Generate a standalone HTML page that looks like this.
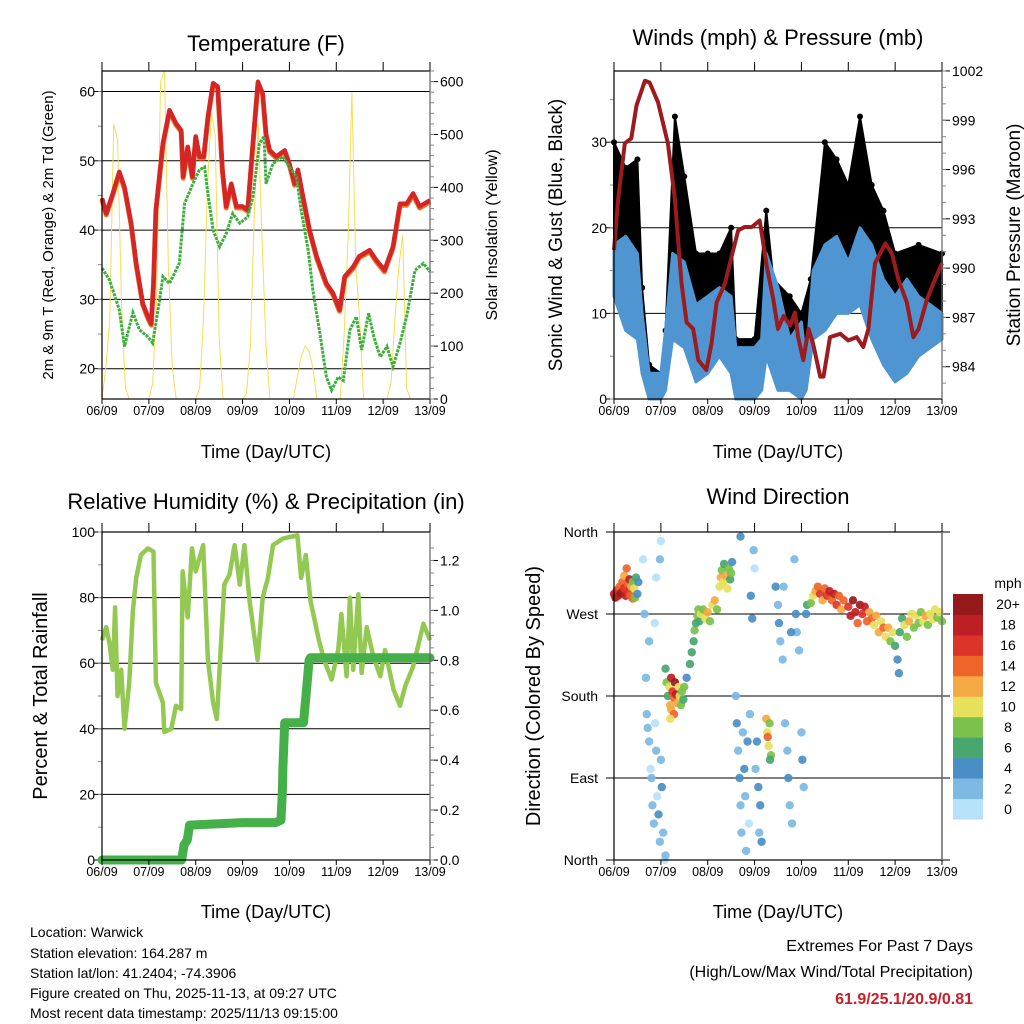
<!DOCTYPE html>
<html><head><meta charset="utf-8"><style>
html,body{margin:0;padding:0;background:#fff;}
svg{display:block;font-family:"Liberation Sans",sans-serif;}
</style></head><body>
<svg id="c" width="1024" height="1024" viewBox="0 0 1024 1024" xmlns="http://www.w3.org/2000/svg">
<rect width="1024" height="1024" fill="#fff"/>
<g id="g"></g>
<text x="266" y="51" font-size="22" text-anchor="middle">Temperature (F)</text>
<text x="778" y="45" font-size="22" text-anchor="middle">Winds (mph) &amp; Pressure (mb)</text>
<text x="266" y="509" font-size="22" text-anchor="middle">Relative Humidity (%) &amp; Precipitation (in)</text>
<text x="778" y="504" font-size="22" text-anchor="middle">Wind Direction</text>
<text transform="translate(53,235) rotate(-90)" font-size="15" text-anchor="middle">2m &amp; 9m T (Red, Orange) &amp; 2m Td (Green)</text>
<text transform="translate(497,235) rotate(-90)" font-size="16" text-anchor="middle">Solar Insolation (Yellow)</text>
<text transform="translate(562,235) rotate(-90)" font-size="19" text-anchor="middle">Sonic Wind &amp; Gust (Blue, Black)</text>
<text transform="translate(1020,235) rotate(-90)" font-size="19" text-anchor="middle">Station Pressure (Maroon)</text>
<text transform="translate(47,696) rotate(-90)" font-size="20" text-anchor="middle">Percent &amp; Total Rainfall</text>
<text transform="translate(540,696) rotate(-90)" font-size="20" text-anchor="middle">Direction (Colored By Speed)</text>
<text x="266" y="458" font-size="18" text-anchor="middle">Time (Day/UTC)</text>
<text x="778" y="458" font-size="18" text-anchor="middle">Time (Day/UTC)</text>
<text x="266" y="918" font-size="18" text-anchor="middle">Time (Day/UTC)</text>
<text x="778" y="918" font-size="18" text-anchor="middle">Time (Day/UTC)</text>
<g font-size="14">
<text x="30" y="937">Location: Warwick</text>
<text x="30" y="958">Station elevation: 164.287 m</text>
<text x="30" y="978">Station lat/lon: 41.2404; -74.3906</text>
<text x="30" y="998">Figure created on Thu, 2025-11-13, at 09:27 UTC</text>
<text x="30" y="1018">Most recent data timestamp: 2025/11/13 09:15:00</text>
</g>
<g font-size="16" text-anchor="end">
<text x="973" y="951">Extremes For Past 7 Days</text>
<text x="973" y="977">(High/Low/Max Wind/Total Precipitation)</text>
<text x="973" y="1004" fill="#c8202a" font-weight="bold">61.9/25.1/20.9/0.81</text>
</g>
</svg>
<script>
// ---- data ----
const dayLabels=["06/09","07/09","08/09","09/09","10/09","11/09","12/09","13/09"];
const tempT=[0,0.09,0.23,0.37,0.48,0.62,0.73,0.87,0.98,1.05,1.1,1.15,1.3,1.44,1.58,1.69,1.73,1.83,1.93,2.0,2.08,2.17,2.26,2.37,2.47,2.57,2.65,2.76,2.87,3.0,3.11,3.22,3.33,3.43,3.5,3.58,3.72,3.9,4.0,4.11,4.18,4.29,4.43,4.58,4.79,4.93,5.07,5.18,5.36,5.49,5.71,5.85,6.03,6.21,6.36,6.5,6.64,6.78,7.0];
const tempV=[44.6,42.4,45.3,48.4,46.2,41,35.2,29.4,27.5,26.5,32.3,42.9,52.5,57.3,55.4,54.4,47.7,52,47.7,53.5,50.6,50.6,56.3,61.2,60.7,48.7,43.4,46.7,43.4,43.4,42.9,52.5,61.4,59.7,53.9,51.5,50.6,51.5,49.6,46.7,48.7,44.8,40,36.2,32.3,30.9,28.5,33.3,34.7,36.2,37.1,35.7,34.2,37.6,43.8,43.8,45.3,43.4,44.3];
const dewT=[0,0.16,0.37,0.48,0.66,0.8,0.98,1.08,1.23,1.3,1.44,1.65,1.76,1.94,2.08,2.19,2.26,2.37,2.51,2.65,2.79,2.94,3.11,3.22,3.36,3.46,3.5,3.65,3.86,4.0,4.15,4.25,4.4,4.5,4.65,4.79,4.9,5.04,5.15,5.29,5.43,5.54,5.69,5.8,5.94,6.08,6.21,6.36,6.5,6.68,6.86,7.0];
const dewV=[34.5,32.8,28.5,23.2,28.1,25.6,24.6,23.7,29.9,33.3,32.3,35.2,43.8,46.7,48.7,49.1,45.3,40,37.6,39.5,42.4,41,41.9,44.8,52.5,53.5,46.7,49.6,50.6,49.1,47.7,42.9,37.1,31.3,25.1,18.8,16.9,18.8,18.3,25.6,27.5,22.7,28,24.6,21.7,23.2,20.3,23.7,27.5,34.2,35.2,34];
const solarV=[0,60,150,520,490,180,20,0,0,0,0,0,
0,30,200,600,620,250,60,0,0,0,0,0,
0,20,150,400,540,500,120,0,0,0,0,0,
0,10,100,350,520,300,100,0,0,0,0,0,
0,0,40,80,100,90,60,0,0,0,0,0,
0,0,120,300,580,250,150,0,0,0,0,0,
0,0,30,150,250,310,20,0,0,0,0,0,0];
const presT=[0,0.09,0.23,0.37,0.48,0.66,0.76,0.94,1.15,1.3,1.44,1.55,1.69,1.8,1.97,2.08,2.19,2.37,2.51,2.65,2.79,2.94,3.11,3.26,3.4,3.5,3.62,3.76,3.86,3.93,4.04,4.15,4.25,4.4,4.47,4.61,4.83,5.0,5.18,5.32,5.43,5.57,5.79,5.93,6.07,6.25,6.39,6.5,6.68,6.82,7.0];
const presV=[991.1,994.2,997.6,997.9,999.9,1001.4,1001.3,1000.1,997.6,994.2,989.1,986.7,986.3,984.4,983.8,985.4,987.9,989.1,990.7,992.3,992.5,992.5,992.9,990.1,988.1,986.3,987.1,986.5,987.3,985.8,984.4,986.3,985.4,983.4,983.4,985.8,986,985.6,985.8,985.2,986.3,990.3,991.5,990.9,989.3,987.9,985.8,986.3,988.1,989.1,990.3];
const windT=[0,0.25,0.5,0.6,0.75,1.0,1.1,1.25,1.5,1.75,2.0,2.25,2.5,2.6,2.75,3.0,3.15,3.25,3.5,3.75,4.0,4.1,4.25,4.5,4.75,5.0,5.25,5.5,5.75,6.0,6.25,6.5,6.75,7.0];
const windHi=[18,19,17,10,3,3,8,17,16,11,12,13,12,6,6,6,7,17,13,7,9,4,15,18,19,16,20,18,14,12,14,12,11,10];
const windLo=[12,8,7,3,0,0,1,7,6,2,3,5,3,0,0,0,1,5,1,1,0,1,7,8,10,10,11,7,4,2,3,5,6,7];
const gustT=[0,0.25,0.5,0.6,0.75,1.0,1.1,1.3,1.5,1.75,2.0,2.25,2.5,2.6,3.0,3.25,3.4,3.75,4.0,4.2,4.5,4.75,5.0,5.25,5.5,5.75,6.0,6.5,7.0];
const gustHi=[30,27,28,13,4,3,8,33,26,17,17,17,20,7,7,22,14,12,10,14,30,28,25,33,25,22,17,18,17];
const rhT=[0,0.09,0.16,0.23,0.28,0.33,0.41,0.48,0.58,0.66,0.73,0.83,0.98,1.1,1.15,1.3,1.33,1.48,1.58,1.69,1.72,1.83,1.92,2.0,2.16,2.26,2.37,2.45,2.54,2.61,2.72,2.83,2.94,3.04,3.15,3.32,3.43,3.54,3.65,3.86,4.17,4.25,4.35,4.45,4.63,4.74,4.9,5.04,5.11,5.22,5.29,5.36,5.47,5.54,5.65,5.79,5.94,6.04,6.22,6.36,6.47,6.64,6.86,7.0];
const rhV=[67,71,66,58,77,50,58,40,54,76,86,93,95,94,54,48,39,40,47,46,88,74,95,88,96,61,48,43,66,84,87,96,84,96,79,61,80,86,96,98,99,86,93,79,67,61,55,64,75,56,80,58,81,57,71,62,56,64,52,47,53,59,72,67];
const precipT=[0,1.7,1.75,1.82,1.87,3.0,3.7,3.82,3.85,3.86,3.9,4.3,4.35,4.42,4.45,7];
const precipV=[0,0,0.06,0.08,0.14,0.15,0.15,0.16,0.28,0.37,0.55,0.55,0.65,0.8,0.81,0.81];
const dirT=[0,0.03,0.06,0.09,0.12,0.15,0.18,0.21,0.22,0.25,0.27,0.3,0.3,0.33,0.35,0.37,0.4,0.4,0.43,0.45,0.47,0.5,0.52,
0.62,0.65,0.68,0.7,0.72,0.75,0.78,0.8,0.82,0.85,0.88,0.9,0.92,0.95,0.98,1.0,1.02,1.05,1.08,0.9,1.0,0.98,0.87,0.75,1.1,
1.1,1.12,1.15,1.18,1.2,1.22,1.25,1.28,1.3,1.32,1.35,1.38,1.4,1.43,1.45,1.48,1.5,1.22,1.28,1.2,
1.55,1.62,1.66,1.7,1.72,1.75,1.78,1.8,1.82,
1.85,1.9,1.95,2.0,2.05,2.1,2.15,2.2,
2.25,2.28,2.3,2.33,2.35,2.38,2.42,2.45,2.48,2.5,2.52,
2.6,2.62,2.65,2.68,2.7,2.72,2.75,2.78,2.8,2.82,2.85,2.88,2.9,2.92,2.95,2.98,3.0,2.7,3.05,3.08,3.1,3.12,3.15,3.02,
3.25,3.27,3.3,3.32,3.35,3.28,3.33,
3.45,3.5,3.52,3.55,3.6,3.62,3.65,3.7,3.72,3.75,3.8,3.85,3.88,3.9,3.95,4.0,4.02,4.05,4.1,4.12,3.78,
4.2,4.25,4.3,4.35,4.4,4.45,4.5,4.55,4.6,4.65,4.7,4.75,4.8,4.85,4.9,
5.0,5.05,5.1,5.15,5.2,5.25,5.3,5.35,5.4,5.45,5.5,5.55,5.6,5.65,5.7,5.75,
5.8,5.85,5.9,5.95,6.0,6.05,6.08,6.1,6.15,6.2,6.25,
6.3,6.35,6.4,6.45,6.5,6.55,6.6,6.65,6.7,6.75,6.8,6.85,6.9,6.95,7.0];
const dirDeg=[292,288,296,290,300,293,305,298,312,290,320,303,295,308,290,300,287,305,298,288,310,292,305,
330,270,200,160,145,130,100,90,60,40,150,120,70,50,20,110,80,30,0,310,350,330,260,240,5,
210,195,180,190,170,200,185,178,195,182,172,190,180,170,185,176,190,165,160,155,
200,215,228,240,252,260,268,275,262,
270,275,265,272,262,280,285,275,
300,310,318,305,325,312,298,320,308,315,327,
180,150,120,90,60,30,140,100,70,10,130,40,160,290,265,340,320,355,130,80,30,60,20,100,
155,140,125,150,115,135,110,
300,280,260,240,220,300,150,120,90,60,40,330,270,250,230,140,110,80,270,280,250,
282,290,295,300,292,285,298,290,295,285,292,280,290,275,285,
278,268,285,272,260,280,270,278,262,272,265,258,268,250,262,255,
245,255,240,250,235,220,205,250,265,258,245,
262,270,255,268,260,272,262,268,258,270,264,275,266,272,262];
const dirSpd=[18,20,16,18,14,20,14,16,12,18,14,14,16,18,14,12,14,8,10,8,6,4,4,
0,2,2,2,2,2,0,2,2,2,0,2,0,4,2,2,4,2,0,0,0,2,0,2,2,
6,8,6,10,12,18,16,14,20,18,12,10,10,8,8,6,8,12,14,10,
4,6,6,6,8,6,8,8,6,
10,8,10,12,8,10,12,8,
10,12,8,10,6,12,10,8,6,8,4,
2,4,2,4,2,2,2,4,2,2,4,0,2,4,4,2,0,4,4,4,2,4,4,2,
12,10,10,8,8,14,6,
4,2,4,2,2,2,2,2,4,2,2,2,4,2,2,2,4,2,4,6,4,
8,10,12,14,16,12,14,16,18,14,18,16,14,12,14,
16,18,20,18,14,20,16,18,14,12,14,10,12,12,10,14,
10,12,8,10,6,4,4,6,6,10,8,
12,10,8,10,8,8,10,12,8,10,10,10,8,10,8];
const cbLabels=["0","2","4","6","8","10","12","14","16","18","20+"];
const cbColors=["#b5e2f8","#7db9e3","#4a8ec6","#48a66f","#7bc14b","#e6e05b","#f5a945","#ee6429","#dd3429","#c01e25","#961a1c"];

// ---- helpers ----
const NS="http://www.w3.org/2000/svg";
const G=document.getElementById('g');
function mk(tag,attrs,parent){const e=document.createElementNS(NS,tag);for(const k in attrs)e.setAttribute(k,attrs[k]);(parent||G).appendChild(e);return e;}
const W=328,H=328;
function xs(x0){return t=>x0+t*W/7;}
function path(ts,vs,xf,yf){return ts.map((t,i)=>(i?'L':'M')+xf(t).toFixed(1)+','+yf(vs[i]).toFixed(1)).join('');}

function frame(x0,y0,name){
  const f=mk('rect',{x:x0,y:y0,width:W,height:H,fill:'none',stroke:'#000','stroke-width':1.2});
  
  
  const X=xs(x0);
  for(let d=0;d<=7;d++){
    const x=X(d);
    mk('line',{x1:x,x2:x,y1:y0-9,y2:y0,stroke:'#000','stroke-width':1});
    mk('line',{x1:x,x2:x,y1:y0+H,y2:y0+H+5,stroke:'#000','stroke-width':1});
    const tx=mk('text',{x:x,y:y0+H+16,'font-size':12.5,'text-anchor':'middle'});
    tx.textContent=dayLabels[d];
    
    
  }
}
function leftTicks(x0,vals,yf,fmt,grid,minorStep,lo,hi){
  vals.forEach(v=>{const y=yf(v);
    mk('line',{x1:x0-8,x2:x0,y1:y,y2:y,stroke:'#000'});
    if(grid)mk('line',{x1:x0,x2:x0+W,y1:y,y2:y,stroke:'#000','stroke-width':1});
    const t=mk('text',{x:x0-7,y:y+5,'font-size':14,'text-anchor':'end'});t.textContent=fmt(v);
    
    });
  if(minorStep)for(let v=lo;v<=hi+1e-9;v+=minorStep){const y=yf(v);mk('line',{x1:x0-4,x2:x0,y1:y,y2:y,stroke:'#888'});}
}
function rightTicks(x1,vals,yf,fmt,minorStep,lo,hi){
  vals.forEach(v=>{const y=yf(v);
    mk('line',{x1:x1,x2:x1+8,y1:y,y2:y,stroke:'#000'});
    const t=mk('text',{x:x1+10,y:y+5,'font-size':14});t.textContent=fmt(v);
    
    });
  if(minorStep)for(let v=lo;v<=hi+1e-9;v+=minorStep){const y=yf(v);mk('line',{x1:x1,x2:x1+4,y1:y,y2:y,stroke:'#888'});}
  mk('line',{x1:x1,x2:x1,y1:71,y2:399,stroke:'#777'});
}

// ---- Panel 1: temperature ----
(function(){
  const x0=102,y0=71,X=xs(x0);
  const yT=v=>368.7-(v-20)*6.93, yS=v=>399-v*0.529;
  leftTicks(x0,[20,30,40,50,60],yT,v=>v,true,5,20,60);
  const solarT=solarV.map((v,i)=>i/12);
  const s=mk('path',{d:path(solarT,solarV,X,yS),fill:'none',stroke:'#f7dd52','stroke-width':1});
  
  
  const o=mk('path',{d:path(tempT,tempV,X,v=>yT(v)+1.5),fill:'none',stroke:'#f07a2a','stroke-width':5,'stroke-linejoin':'round'});
  
  
  const r=mk('path',{d:path(tempT,tempV,X,yT),fill:'none',stroke:'#d42626','stroke-width':4.5,'stroke-linejoin':'round'});
  
  
  const g=mk('path',{d:path(dewT,dewV,X,yT),fill:'none',stroke:'#3fae3f','stroke-width':3,'stroke-dasharray':'3 1'});
  
  
  frame(x0,y0,'temperature');
  rightTicks(x0+W,[0,100,200,300,400,500,600],yS,v=>v,20,0,620);
})();

// ---- Panel 2: winds & pressure ----
(function(){
  const x0=614,y0=71,X=xs(x0);
  const yW=v=>399-v*8.56, yP=p=>366.7-(p-984)*16.43;
  leftTicks(x0,[0,10,20,30],yW,v=>v,true,5,0,35);
  const gd=path(gustT,gustHi,X,yW)+windT.map((t,i)=>windT.length-1-i).map(j=>'L'+X(windT[j]).toFixed(1)+','+yW(windLo[j]).toFixed(1)).join('')+'Z';
  const ga=mk('path',{d:gd,fill:'#000',stroke:'#000','stroke-width':2,'stroke-linejoin':'round'});
  
  
  gustT.forEach((t,i)=>{const c=mk('circle',{cx:X(t),cy:yW(gustHi[i]),r:3,fill:'#000'});
    
    });
  const wd=path(windT,windHi,X,yW)+windT.map((t,i)=>windT.length-1-i).map(j=>'L'+X(windT[j]).toFixed(1)+','+yW(windLo[j]).toFixed(1)).join('')+'Z';
  const wa=mk('path',{d:wd,fill:'#4f95d2',stroke:'#4f95d2','stroke-width':3,'stroke-linejoin':'round'});
  
  
  const p=mk('path',{d:path(presT,presV,X,yP),fill:'none',stroke:'#9b1b1e','stroke-width':4,'stroke-linejoin':'round'});
  
  
  frame(x0,y0,'winds');
  rightTicks(x0+W,[984,987,990,993,996,999,1002],yP,v=>v,1,983,1002);
})();

// ---- Panel 3: RH & precip ----
(function(){
  const x0=102,y0=532,X=xs(x0);
  const yR=v=>860-v*3.28, yP=v=>860-v*249.6;
  leftTicks(x0,[0,20,40,60,80,100],yR,v=>v,true,10,0,100);
  const r=mk('path',{d:path(rhT,rhV,X,yR),fill:'none',stroke:'#93c952','stroke-width':4.5,'stroke-linejoin':'round'});
  
  
  const p=mk('path',{d:path(precipT,precipV,X,yP),fill:'none',stroke:'#45b049','stroke-width':9,'stroke-linejoin':'round','stroke-linecap':'round'});
  
  
  frame(x0,y0,'humidity');
  [0,0.2,0.4,0.6,0.8,1.0,1.2].forEach(v=>{const y=yP(v);mk('line',{x1:x0+W,x2:x0+W+8,y1:y,y2:y,stroke:'#000'});
    const t=mk('text',{x:x0+W+10,y:y+5,'font-size':14});t.textContent=v.toFixed(1);
    
    });
  for(let v=0;v<=1.3;v+=0.05){const y=yP(v);mk('line',{x1:x0+W,x2:x0+W+4,y1:y,y2:y,stroke:'#888'});}
  mk('line',{x1:x0+W,x2:x0+W,y1:532,y2:860,stroke:'#777'});
})();

// ---- Panel 4: wind direction ----
(function(){
  const x0=614,y0=532,X=xs(x0);
  const yD=d=>860-d/360*328;
  const names=["North","East","South","West","North"];
  [0,90,180,270,360].forEach((d,i)=>{const y=yD(d);
    mk('line',{x1:x0-8,x2:x0+W+8,y1:y,y2:y,stroke:'#000'});
    const t=mk('text',{x:x0-16,y:y+5,'font-size':14,'text-anchor':'end'});t.textContent=names[i];
    
    });
  dirT.forEach((t,i)=>{
    const ci=Math.min(10,Math.floor(dirSpd[i]/2));
    const c=mk('circle',{cx:X(t),cy:yD(dirDeg[i]),r:4.2,fill:cbColors[ci],'fill-opacity':0.92});
    
    
  });
  frame(x0,y0,'direction');
  mk('line',{x1:x0+W,x2:x0+W,y1:532,y2:860,stroke:'#777','stroke-width':1.5});
  const cb=mk('g',{});
  
  
  const bh=225/11;
  cbColors.forEach((col,i)=>{
    const y=819-(i+1)*bh;
    const r=mk('rect',{x:953,y:y,width:30,height:bh+0.5,fill:col},cb);
    
    
    const t=mk('text',{x:1008,y:y+bh/2+5,'font-size':14,'text-anchor':'middle'},cb);t.textContent=cbLabels[i];
    
    
  });
  const u=mk('text',{x:1008,y:588,'font-size':14,'text-anchor':'middle'},cb);u.textContent="mph";
  
  
})();
</script>
</body></html>
